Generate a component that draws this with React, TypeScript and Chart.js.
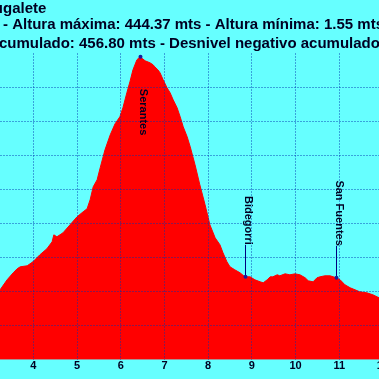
import React, { useEffect, useRef } from "react";
import { Chart, registerables } from "chart.js";

Chart.register(...registerables);

// ---- data ----
const distanceKm = [
  3.2, 3.24, 3.4, 3.54, 3.63, 3.7, 3.86, 3.99, 4.15, 4.31, 4.43, 4.47, 4.54, 4.68, 4.84,
  5.0, 5.14, 5.23, 5.3, 5.37, 5.46, 5.53, 5.64, 5.76, 5.87, 5.98, 6.05, 6.14, 6.21, 6.28,
  6.37, 6.44, 6.56, 6.67, 6.74, 6.78, 6.85, 6.9, 6.97, 7.06, 7.13, 7.2, 7.29, 7.36, 7.43,
  7.52, 7.59, 7.7, 7.81, 7.93, 8.04, 8.16, 8.27, 8.34, 8.43, 8.5, 8.61, 8.73, 8.84, 8.96,
  9.07, 9.19, 9.26, 9.35, 9.42, 9.48, 9.58, 9.64, 9.76, 9.87, 9.99, 10.1, 10.22, 10.29,
  10.4, 10.49, 10.56, 10.67, 10.79, 10.93, 11.02, 11.13, 11.25, 11.36, 11.47, 11.63,
  11.77, 11.91, 12.05, 12.2, 12.4,
];
const altitudeM = [
  99, 102.7, 117.3, 127.6, 133.5, 136.4, 137.9, 143.7, 154.0, 162.8, 173.1, 183.3, 180.4, 186.3, 198.0,
  209.7, 217.1, 221.5, 234.7, 253.7, 264.0, 281.6, 308.0, 330.0, 346.1, 356.4, 369.6, 391.6, 407.7, 425.3,
  440.0, 444.37, 438.5, 435.6, 432.7, 429.7, 425.3, 420.9, 410.7, 398.9, 391.6, 381.3, 369.6, 356.4, 341.7,
  327.1, 312.4, 286.0, 256.7, 227.3, 198.0, 178.9, 168.7, 156.9, 143.7, 136.4, 132.0, 127.6, 121.7, 121.7,
  117.3, 114.4, 112.9, 117.3, 121.7, 121.7, 124.7, 123.2, 126.1, 124.7, 126.1, 124.7, 120.3, 115.9,
  114.4, 120.3, 121.7, 123.2, 123.2, 120.3, 117.3, 110.0, 105.6, 102.7, 99.7, 98.3,
  95.3, 90.9, 88, 85, 82,
];

const waypointNames = ["Serantes", "Bidegorri", "San Fuentes"];
const waypointKm = [6.44, 8.84, 10.93];
const waypointAlt = [444.37, 121.7, 120.3];

const xTickValues = [4, 5, 6, 7, 8, 9, 10, 11, 12];
const yMin = 0;
const yMax = 450;
const yStep = 50;

const titleLines = [
  "Portugalete",
  "Distancia: 15.53 kms - Altura máxima: 444.37 mts - Altura mínima: 1.55 mts",
  "Desnivel positivo acumulado: 456.80 mts - Desnivel negativo acumulado: 443.70 mts",
];
const titleVisibleStarts = ["galete", "- Altura", "cumulado"];

// ---- styles ----
const BG = "#66ffff";
const RED = "#ff0000";
const GRID = "rgba(0, 50, 175, 0.45)";
const TEXT = "#000022";
const FONT = "'Liberation Sans', Arial, sans-serif";
const CANVAS_W = 400;
const CANVAS_H = 379;
const PX_PER_KM = 43.71;
const X_MIN = 3.238;

const titlePlugin = {
  id: "profileTitle",
  afterDraw(chart: any) {
    const ctx = chart.ctx;
    ctx.save();
    ctx.font = `bold 15px ${FONT}`;
    ctx.fillStyle = TEXT;
    ctx.textAlign = "left";
    ctx.textBaseline = "alphabetic";
    const xs = [3, 3, -1];
    const ys = [13, 29, 48];
    titleLines.forEach((line, i) => {
      const k = line.indexOf(titleVisibleStarts[i]);
      const pre = ctx.measureText(line.slice(0, Math.max(k, 0))).width;
      ctx.fillText(line, xs[i] - pre, ys[i]);
    });
    ctx.restore();
  },
};

const waypointPlugin = {
  id: "waypoints",
  afterDraw(chart: any) {
    const ctx = chart.ctx;
    const sx = chart.scales.x;
    const sy = chart.scales.y;
    const gap = 32;
    ctx.save();
    ctx.font = `bold 11px ${FONT}`;
    waypointNames.forEach((name, i) => {
      const px = Math.round(sx.getPixelForValue(waypointKm[i])) + 0.5;
      const py = sy.getPixelForValue(waypointAlt[i]);
      const w = ctx.measureText(name).width;
      const above = py - gap - w >= chart.chartArea.top + 20;
      if (above) {
        ctx.strokeStyle = "#000080";
        ctx.lineWidth = 1;
        ctx.beginPath();
        ctx.moveTo(px, py);
        ctx.lineTo(px, py - gap);
        ctx.stroke();
      }
      ctx.fillStyle = "#1a1a99";
      ctx.beginPath();
      ctx.arc(px, py, 2, 0, Math.PI * 2);
      ctx.fill();

      ctx.save();
      ctx.fillStyle = TEXT;
      ctx.textBaseline = "alphabetic";
      if (above) {
        ctx.translate(px - 0.5, py - gap);
        ctx.rotate(Math.PI / 2);
        ctx.textAlign = "right";
      } else {
        ctx.translate(px - 0.5, py + gap);
        ctx.rotate(Math.PI / 2);
        ctx.textAlign = "left";
      }
      ctx.fillText(name, 0, 0);
      ctx.restore();
    });
    ctx.restore();
  },
};

export default function App() {
  const canvasRef = useRef<HTMLCanvasElement | null>(null);

  useEffect(() => {
    const canvas = canvasRef.current;
    if (!canvas) return;
    const points = distanceKm.map((d, i) => ({ x: d, y: altitudeM[i] }));
    const chart = new Chart(canvas, {
      type: "line",
      data: {
        datasets: [
          {
            data: points,
            fill: "origin",
            backgroundColor: RED,
            borderColor: RED,
            borderWidth: 1,
            pointRadius: 0,
            tension: 0,
          },
        ],
      },
      options: {
        animation: false,
        responsive: true,
        maintainAspectRatio: false,
        layout: { padding: { top: 53, bottom: 6, left: 0, right: 0 } },
        plugins: {
          legend: { display: false },
          title: { display: false },
          tooltip: { enabled: false },
        },
        scales: {
          x: {
            type: "linear",
            min: X_MIN,
            max: X_MIN + CANVAS_W / PX_PER_KM,
            afterBuildTicks: (s: any) => {
              s.ticks = xTickValues.map((v) => ({ value: v }));
            },
            grid: { color: GRID, drawTicks: false, z: 1, lineWidth: 1 },
            border: { display: false, dash: [2, 1] },
            ticks: {
              padding: 0,
              color: TEXT,
              autoSkip: false,
              maxRotation: 0,
              font: { family: FONT, size: 11, weight: "bold" },
            },
          },
          y: {
            min: yMin,
            max: yMax,
            ticks: { display: false, stepSize: yStep },
            grid: {
              drawTicks: false,
              z: 1,
              lineWidth: 1,
              color: (c: any) =>
                c.tick && (c.tick.value === yMin || c.tick.value === yMax) ? "rgba(0,0,0,0)" : GRID,
            },
            border: { display: false, dash: [2, 1] },
          },
        },
      } as any,
      plugins: [titlePlugin, waypointPlugin],
    });
    return () => chart.destroy();
  }, []);

  return (
    <div
      style={{
        position: "fixed",
        left: 0,
        top: 0,
        width: 379,
        height: 379,
        overflow: "hidden",
        background: BG,
      }}
    >
      <div style={{ position: "relative", width: CANVAS_W, height: CANVAS_H }}>
        <canvas ref={canvasRef} />
      </div>
    </div>
  );
}
